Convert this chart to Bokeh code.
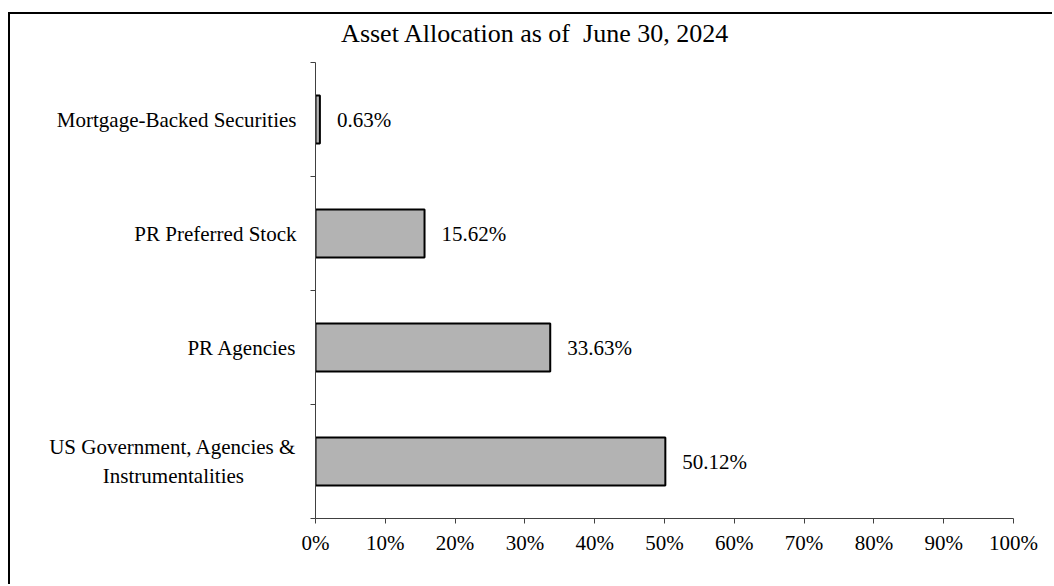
from bokeh.plotting import figure
from bokeh.models import FixedTicker, Range1d, ColumnDataSource, LinearAxis
from bokeh.core.properties import value
from bokeh.embed import file_html
from bokeh.resources import INLINE

NB = "\u00a0"
categories = ["US Government, Agencies &\nInstrumentalities" + NB * 10, "PR Agencies",
              "PR Preferred Stock", "Mortgage-Backed Securities"]
values = [50.12, 33.63, 15.62, 0.63]
x_ticks = [0, 10, 20, 30, 40, 50, 60, 70, 80, 90, 100]
title_text = "Asset Allocation as of" + NB + " June 30, 2024"
title_pos = 31.5  # horizontal centre of the title, in x-axis units

FONT = "'Liberation Serif', 'Times New Roman', serif"
centers = [i + 0.5 for i in range(len(categories))]
labels = [f"{v:.2f}%" for v in values]

src = ColumnDataSource(dict(y=centers, v=values, lab=labels))

p = figure(width=1044, height=572, output_backend="svg", toolbar_location=None,
           x_range=Range1d(0, 100), y_range=Range1d(0, len(categories)),
           min_border_left=305, min_border_right=41, min_border_top=48,
           min_border_bottom=68)
p.styles = {"margin-left": "8px", "margin-top": "12px",
            "border-left": "2px solid black", "border-top": "2px solid black"}

xa = p.below[0]
ya = p.left[0]

p.hbar(y="y", right="v", left=0, height=0.42, source=src,
       fill_color="#b3b3b3", line_color="black", line_width=2)
p.text(x="v", y="y", text="lab", source=src, x_offset=17,
       text_baseline="middle", text_align="left",
       text_font=value(FONT), text_font_size="21px", text_color="black")

# chart title, drawn as the single label of a bare axis above the frame
ta = LinearAxis(ticker=FixedTicker(ticks=[title_pos]),
                major_label_overrides={title_pos: title_text})
ta.axis_line_color = None
ta.major_tick_line_color = None
ta.minor_tick_line_color = None
ta.major_tick_out = 0
ta.major_tick_in = 0
ta.major_label_standoff = 15
ta.major_label_text_font = FONT
ta.major_label_text_font_size = "26px"
ta.major_label_text_color = "black"
p.add_layout(ta, "above")

p.outline_line_color = None
p.xgrid.grid_line_color = None
p.ygrid.grid_line_color = None

xa.ticker = FixedTicker(ticks=x_ticks)
xa.major_label_overrides = {t: f"{t}%" for t in x_ticks}
xa.axis_line_color = "#404040"
xa.major_tick_line_color = "#404040"
xa.major_tick_out = 5
xa.major_tick_in = 0
xa.minor_tick_line_color = None
xa.major_label_standoff = 7
xa.major_label_text_font = FONT
xa.major_label_text_font_size = "21px"
xa.major_label_text_color = "black"

ya.ticker = FixedTicker(ticks=centers, minor_ticks=list(range(len(categories) + 1)))
ya.major_label_overrides = {c: lab for c, lab in zip(centers, categories)}
ya.axis_line_color = "#404040"
ya.major_tick_line_color = None
ya.major_tick_out = 0
ya.major_tick_in = 0
ya.minor_tick_line_color = "#404040"
ya.minor_tick_out = 5
ya.minor_tick_in = 0
ya.major_label_standoff = 14
ya.major_label_text_font = FONT
ya.major_label_text_font_size = "21px"
ya.major_label_text_color = "black"

open("out.html", "w").write(file_html(p, INLINE))
